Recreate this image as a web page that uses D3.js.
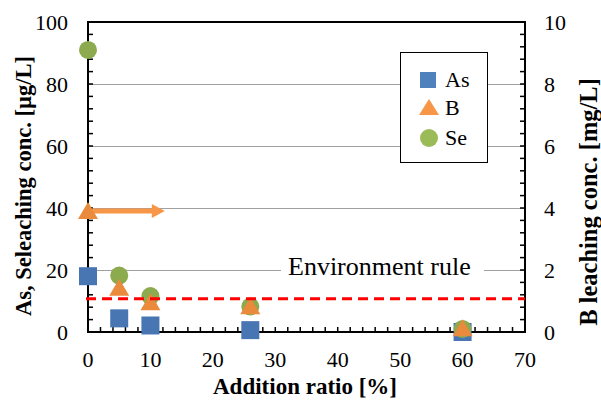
<!DOCTYPE html>
<html>
<head>
<meta charset="utf-8">
<script src="https://cdn.jsdelivr.net/npm/d3@7"></script>
<style>
  body { margin: 0; background: #fff; }
</style>
</head>
<body>
<svg id="chart" width="601" height="401"></svg>
<script>
const ratios = [0, 5, 10, 26, 60]
const asValues = [18, 4.4, 2.1, 0.6, 0]
const seValues = [91, 18.2, 11.6, 8.2, 1.0]
const bValues = [3.9, 1.43, 0.96, 0.83, 0.12]

const xTicks = [0, 10, 20, 30, 40, 50, 60, 70]
const leftTicks = [0, 20, 40, 60, 80, 100]
const rightTicks = [0, 2, 4, 6, 8, 10]
const gridValues = [20, 40, 60, 80]
const envRule = 10.7
const arrowSpan = [0, 12.3]

const font = "Liberation Serif"

const colors = {
    As: { fill: "#4876b3", legend: "#4f81bd" },
    B: { fill: "#ea8a3c", legend: "#f79646" },
    Se: { fill: "#8caa4e", legend: "#9bbb59" }
}

const margin = { left: 88, right: 76, top: 22, bottom: 69 }
const width = 601
const height = 401

const svg = d3.select("#chart")

const x = d3.scaleLinear().domain([0, 70]).range([margin.left, width - margin.right])
const yLeft = d3.scaleLinear().domain([0, 100]).range([height - margin.bottom, margin.top])
const yRight = d3.scaleLinear().domain([0, 10]).range([height - margin.bottom, margin.top])

const addText = (sel) => sel.append("text").attr("font-family", font).attr("fill", "#000")

// gridlines
svg.append("g")
    .attr("stroke", "#a0a0a0")
    .attr("stroke-width", 1)
    .selectAll("line")
    .data(gridValues)
    .join("line")
    .attr("x1", x(0))
    .attr("x2", x(70))
    .attr("y1", (d) => Math.round(yLeft(d)) + 0.5)
    .attr("y2", (d) => Math.round(yLeft(d)) + 0.5)

// legend box
const legend = svg.append("g")
legend.append("rect")
    .attr("x", 400.5).attr("y", 52.5)
    .attr("width", 87).attr("height", 110)
    .attr("fill", "#fff").attr("stroke", "#000").attr("stroke-width", 1)

const legendItems = [
    { name: "As", cy: 80 },
    { name: "B", cy: 108 },
    { name: "Se", cy: 138 }
]
legendItems.forEach((item) => {
    const c = colors[item.name].legend
    if (item.name === "As") {
        legend.append("rect").attr("x", 420).attr("y", item.cy - 8)
            .attr("width", 16).attr("height", 16).attr("fill", c)
    } else if (item.name === "B") {
        legend.append("path")
            .attr("d", `M${429},${item.cy - 9} L${439},${item.cy + 7} L${419},${item.cy + 7} Z`)
            .attr("fill", c)
    } else {
        legend.append("circle").attr("cx", 429).attr("cy", item.cy).attr("r", 9).attr("fill", c)
    }
    addText(legend)
        .attr("x", 445).attr("y", item.cy + 7)
        .attr("font-size", 22)
        .text(item.name)
})

// environment rule label with white background
svg.append("rect")
    .attr("x", 281).attr("y", 256)
    .attr("width", 203).attr("height", 26)
    .attr("fill", "#fff")
addText(svg)
    .attr("x", 288).attr("y", 275)
    .attr("font-size", 26)
    .text("Environment rule")

// axes frame
const frame = svg.append("g").attr("stroke", "#000").attr("stroke-width", 2).attr("fill", "none")
frame.append("line").attr("x1", x(0)).attr("x2", x(0)).attr("y1", yLeft(100) - 1).attr("y2", yLeft(0) + 1)
frame.append("line").attr("x1", x(70)).attr("x2", x(70)).attr("y1", yLeft(100) - 1).attr("y2", yLeft(0) + 1)
frame.append("line").attr("x1", x(0)).attr("x2", x(70)).attr("y1", yLeft(0)).attr("y2", yLeft(0))
frame.append("line").attr("x1", x(0)).attr("x2", x(70)).attr("y1", yLeft(100)).attr("y2", yLeft(100))

// minor ticks, pointing inward
const tickLen = 5
frame.append("g").attr("stroke-width", 1.5).selectAll("line")
    .data(d3.range(4, 100, 4))
    .join("line")
    .attr("x1", x(0)).attr("x2", x(0) + tickLen)
    .attr("y1", (d) => yLeft(d)).attr("y2", (d) => yLeft(d))
frame.append("g").attr("stroke-width", 1.5).selectAll("line")
    .data(d3.range(0.4, 10, 0.4))
    .join("line")
    .attr("x1", x(70)).attr("x2", x(70) - tickLen)
    .attr("y1", (d) => yRight(d)).attr("y2", (d) => yRight(d))
frame.append("g").attr("stroke-width", 1.5).selectAll("line")
    .data(d3.range(2, 70, 2))
    .join("line")
    .attr("x1", (d) => x(d)).attr("x2", (d) => x(d))
    .attr("y1", yLeft(0)).attr("y2", yLeft(0) - tickLen)

// tick labels
svg.append("g").selectAll("text")
    .data(leftTicks)
    .join("text")
    .attr("font-family", font)
    .attr("x", 68).attr("y", (d) => yLeft(d))
    .attr("dy", "0.35em")
    .attr("text-anchor", "end")
    .attr("font-size", 22)
    .text((d) => d)
svg.append("g").selectAll("text")
    .data(rightTicks)
    .join("text")
    .attr("font-family", font)
    .attr("x", 544).attr("y", (d) => yRight(d))
    .attr("dy", "0.35em")
    .attr("font-size", 22)
    .text((d) => d)
svg.append("g").selectAll("text")
    .data(xTicks)
    .join("text")
    .attr("font-family", font)
    .attr("x", (d) => x(d)).attr("y", 367)
    .attr("text-anchor", "middle")
    .attr("font-size", 22)
    .text((d) => d)

// axis titles
addText(svg)
    .attr("x", 305).attr("y", 394)
    .attr("text-anchor", "middle")
    .attr("font-size", 23).attr("font-weight", "bold")
    .text("Addition ratio [%]")
addText(svg)
    .attr("transform", "translate(31,186) rotate(-90)")
    .attr("text-anchor", "middle")
    .attr("font-size", 22.5).attr("font-weight", "bold")
    .text("As, Seleaching conc. [µg/L]")
addText(svg)
    .attr("transform", "translate(597,202) rotate(-90)")
    .attr("text-anchor", "middle")
    .attr("font-size", 24.5).attr("font-weight", "bold")
    .text("B leaching conc. [mg/L]")

// arrow pointing to the right axis
const arrowY = yRight(bValues[0])
svg.append("line")
    .attr("x1", x(arrowSpan[0])).attr("x2", x(arrowSpan[1]) - 10)
    .attr("y1", arrowY).attr("y2", arrowY)
    .attr("stroke", colors.B.legend).attr("stroke-width", 5)
svg.append("path")
    .attr("d", `M${x(arrowSpan[1])},${arrowY} L${x(arrowSpan[1]) - 13},${arrowY - 7} L${x(arrowSpan[1]) - 13},${arrowY + 7} Z`)
    .attr("fill", colors.B.legend)

// data markers
const points = ratios.map((r, i) => ({ r, as: asValues[i], se: seValues[i], b: bValues[i] }))

svg.append("g").selectAll("rect")
    .data(points)
    .join("rect")
    .attr("x", (d) => x(d.r) - 9).attr("y", (d) => yLeft(d.as) - 9)
    .attr("width", 18).attr("height", 18)
    .attr("fill", colors.As.fill)

svg.append("g").selectAll("circle")
    .data(points)
    .join("circle")
    .attr("cx", (d) => x(d.r)).attr("cy", (d) => yLeft(d.se))
    .attr("r", 9)
    .attr("fill", colors.Se.fill)

svg.append("g").selectAll("path")
    .data(points)
    .join("path")
    .attr("d", (d) => {
        const cx = x(d.r), cy = yRight(d.b)
        return `M${cx},${cy - 9} L${cx + 10},${cy + 8} L${cx - 10},${cy + 8} Z`
    })
    .attr("fill", colors.B.fill)

// environmental standard line
svg.append("line")
    .attr("x1", x(0) - 2).attr("x2", x(70))
    .attr("y1", yLeft(envRule)).attr("y2", yLeft(envRule))
    .attr("stroke", "#ff0000").attr("stroke-width", 3)
    .attr("stroke-dasharray", "10,6")
</script>
</body>
</html>
